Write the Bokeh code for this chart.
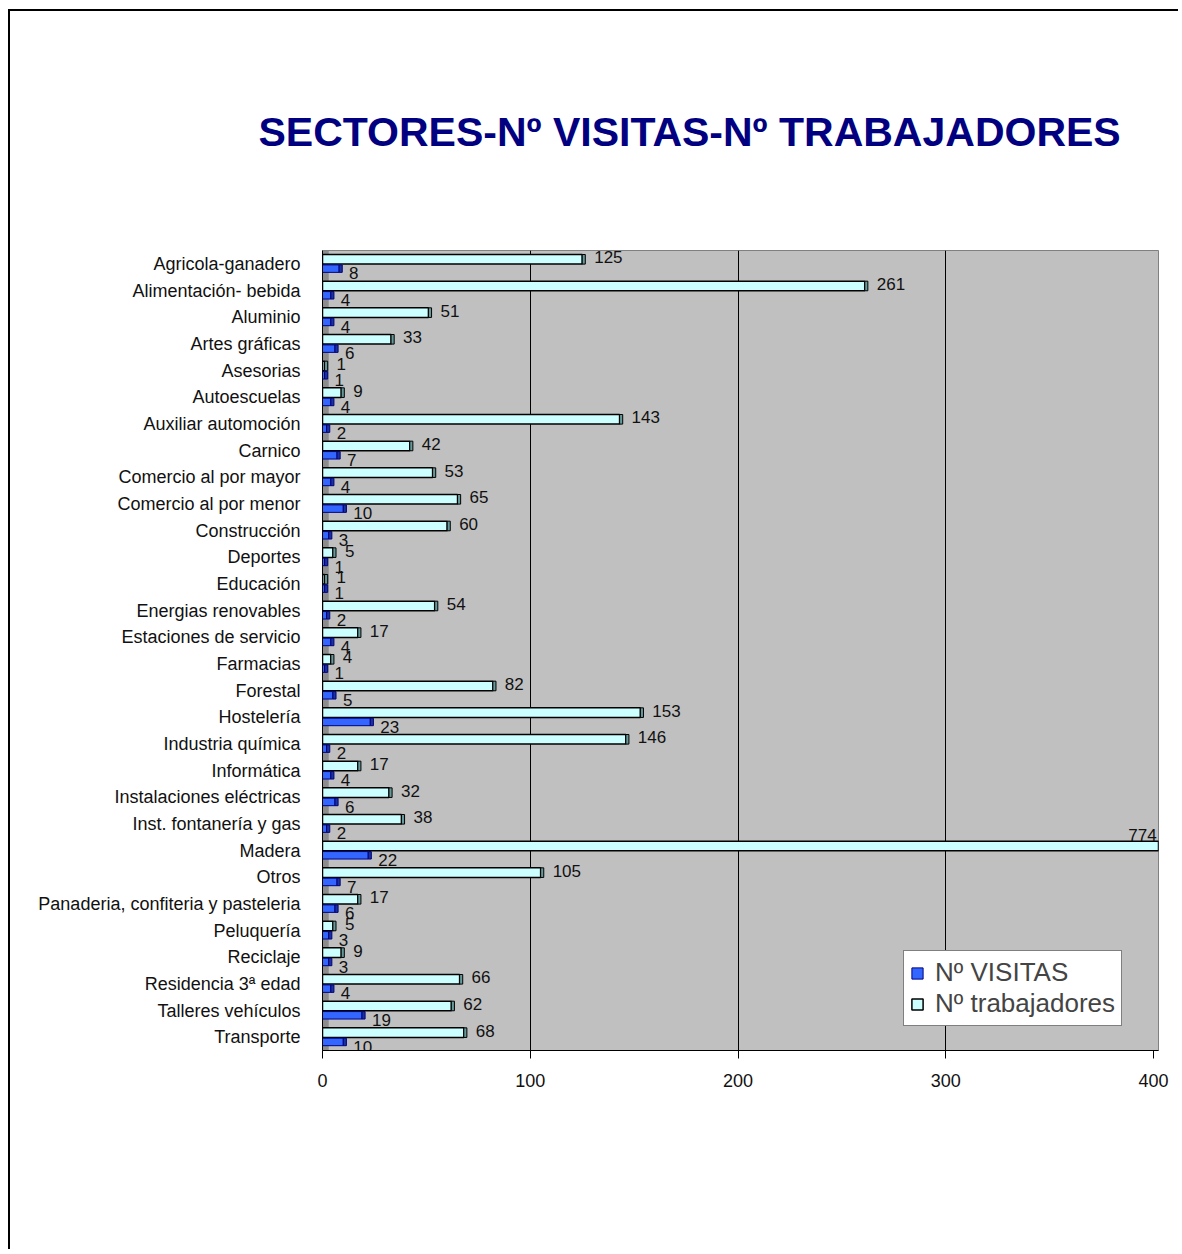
from bokeh.plotting import figure
from bokeh.models import (ColumnDataSource, FactorRange, FixedTicker, Legend,
                          LegendItem, BoxAnnotation, Range1d)
from bokeh.transform import dodge
from bokeh.core.properties import value
from bokeh.embed import file_html
from bokeh.resources import INLINE

# ---------------- data ----------------
categories = [
    "Agricola-ganadero", "Alimentación- bebida", "Aluminio", "Artes gráficas",
    "Asesorias", "Autoescuelas", "Auxiliar automoción", "Carnico",
    "Comercio al por mayor", "Comercio al por menor", "Construcción",
    "Deportes", "Educación", "Energias renovables", "Estaciones de servicio",
    "Farmacias", "Forestal", "Hostelería", "Industria química", "Informática",
    "Instalaciones eléctricas", "Inst. fontanería y gas", "Madera", "Otros",
    "Panaderia, confiteria y pasteleria", "Peluquería", "Reciclaje",
    "Residencia 3ª edad", "Talleres vehículos", "Transporte",
]
visitas = [8, 4, 4, 6, 1, 4, 2, 7, 4, 10, 3, 1, 1, 2, 4, 1, 5, 23, 2, 4,
           6, 2, 22, 7, 6, 3, 3, 4, 19, 10]
trabajadores = [125, 261, 51, 33, 1, 9, 143, 42, 53, 65, 60, 5, 1, 54, 17, 4,
                82, 153, 146, 17, 32, 38, 774, 105, 17, 5, 9, 66, 62, 68]
x_ticks = [0, 100, 200, 300, 400]
grid_ticks = [100, 200, 300]
title_text = "SECTORES-Nº VISITAS-Nº TRABAJADORES"
series_names = ["Nº VISITAS", "Nº trabajadores"]

X_MAX_TICK = 400
X_END = 402.4
CAP = 1.5
FONT = "Liberation Sans"

src = ColumnDataSource(dict(
    cat=categories,
    vis=visitas,
    trab=trabajadores,
    vis_cap=[v + CAP for v in visitas],
    trab_cap=[v + CAP for v in trabajadores],
    vis_lbl=[str(v) for v in visitas],
))

in_cats = [c for c, v in zip(categories, trabajadores) if v <= X_MAX_TICK]
in_vals = [v for v in trabajadores if v <= X_MAX_TICK]
out_cats = [c for c, v in zip(categories, trabajadores) if v > X_MAX_TICK]
out_vals = [v for v in trabajadores if v > X_MAX_TICK]
src_in = ColumnDataSource(dict(cat=in_cats, x=in_vals, t=[str(v) for v in in_vals]))
src_out = ColumnDataSource(dict(cat=out_cats, x=[X_MAX_TICK + 1.5] * len(out_cats),
                                t=[str(v) for v in out_vals]))

p = figure(width=1170, height=1240,
           y_range=FactorRange(factors=categories[::-1]),
           x_range=Range1d(0, X_END),
           output_backend="svg", toolbar_location=None,
           min_border_left=312, min_border_right=22,
           min_border_top=238, min_border_bottom=201,
           background_fill_color="#C0C0C0", border_fill_color="white",
           outline_line_color="#808080")
p.styles = {"margin-left": "8px", "margin-top": "9px",
            "border-left": "2px solid black", "border-top": "2px solid black"}

# side wall of the 3-D look
p.add_layout(BoxAnnotation(left=0, right=3, fill_color="#8C8C8C", fill_alpha=1,
                           line_color=None, level="underlay"))

ycy = dodge("cat", 0.17, range=p.y_range)
ybl = dodge("cat", -0.18, range=p.y_range)

r_trab = p.hbar(y=ycy, left=0, right="trab", height=0.36, source=src,
                fill_color="#CCFFFF", line_color="black", line_width=1.5)
p.hbar(y=ycy, left="trab", right="trab_cap", height=0.36, source=src,
       fill_color="#669999", line_color="black", line_width=1)
r_vis = p.hbar(y=ybl, left=0, right="vis", height=0.28, source=src,
               fill_color="#3366FF", line_color="#000080", line_width=1)
p.hbar(y=ybl, left="vis", right="vis_cap", height=0.28, source=src,
       fill_color="#1A3399", line_color="#000080", line_width=1)

# value labels
p.text(x="x", y=dodge("cat", 0.24, range=p.y_range), text="t", source=src_in,
       x_offset=12, text_baseline="middle", text_align="left",
       text_font=value(FONT), text_font_size="17px", text_color="#111111")
p.text(x="x", y=dodge("cat", 0.6, range=p.y_range), text="t", source=src_out,
       x_offset=0, text_baseline="middle", text_align="right",
       text_font=value(FONT), text_font_size="17px", text_color="#111111")
p.text(x="vis", y=dodge("cat", -0.36, range=p.y_range), text="vis_lbl", source=src,
       x_offset=10, text_baseline="middle", text_align="left",
       text_font=value(FONT), text_font_size="17px", text_color="#111111")

# title
p.title.text = title_text
p.title.align = "left"
p.title.offset = -64
p.title.standoff = 191
p.title.text_font = FONT
p.title.text_font_size = "41px"
p.title.text_font_style = "bold"
p.title.text_color = "#000080"

# axes
p.xaxis.ticker = FixedTicker(ticks=x_ticks)
p.xaxis.major_label_text_font = FONT
p.xaxis.major_label_text_font_size = "18px"
p.xaxis.major_label_text_color = "#111111"
p.xaxis.major_tick_out = 8
p.xaxis.major_tick_in = 0
p.xaxis.minor_tick_line_color = None
p.xaxis.axis_line_color = "black"
p.xaxis.major_tick_line_color = "black"
p.xaxis.major_label_standoff = 15

p.yaxis.major_label_text_font = FONT
p.yaxis.major_label_text_font_size = "18px"
p.yaxis.major_label_text_color = "#111111"
p.yaxis.major_tick_line_color = None
p.yaxis.major_label_standoff = 16
p.yaxis.axis_line_color = "black"

p.xgrid.ticker = FixedTicker(ticks=grid_ticks)
p.xgrid.grid_line_color = "black"
p.xgrid.grid_line_alpha = 1
p.ygrid.grid_line_color = None

legend = Legend(items=[LegendItem(label=series_names[0], renderers=[r_vis]),
                       LegendItem(label=series_names[1], renderers=[r_trab])],
                location=(581, 24),
                label_text_font=FONT, label_text_font_size="26px",
                glyph_width=14, glyph_height=14,
                border_line_color="black", border_line_width=1,
                background_fill_color="white", background_fill_alpha=1,
                padding=6, spacing=0, label_standoff=11, margin=0)
p.add_layout(legend)

open("out.html", "w").write(file_html(p, INLINE))
